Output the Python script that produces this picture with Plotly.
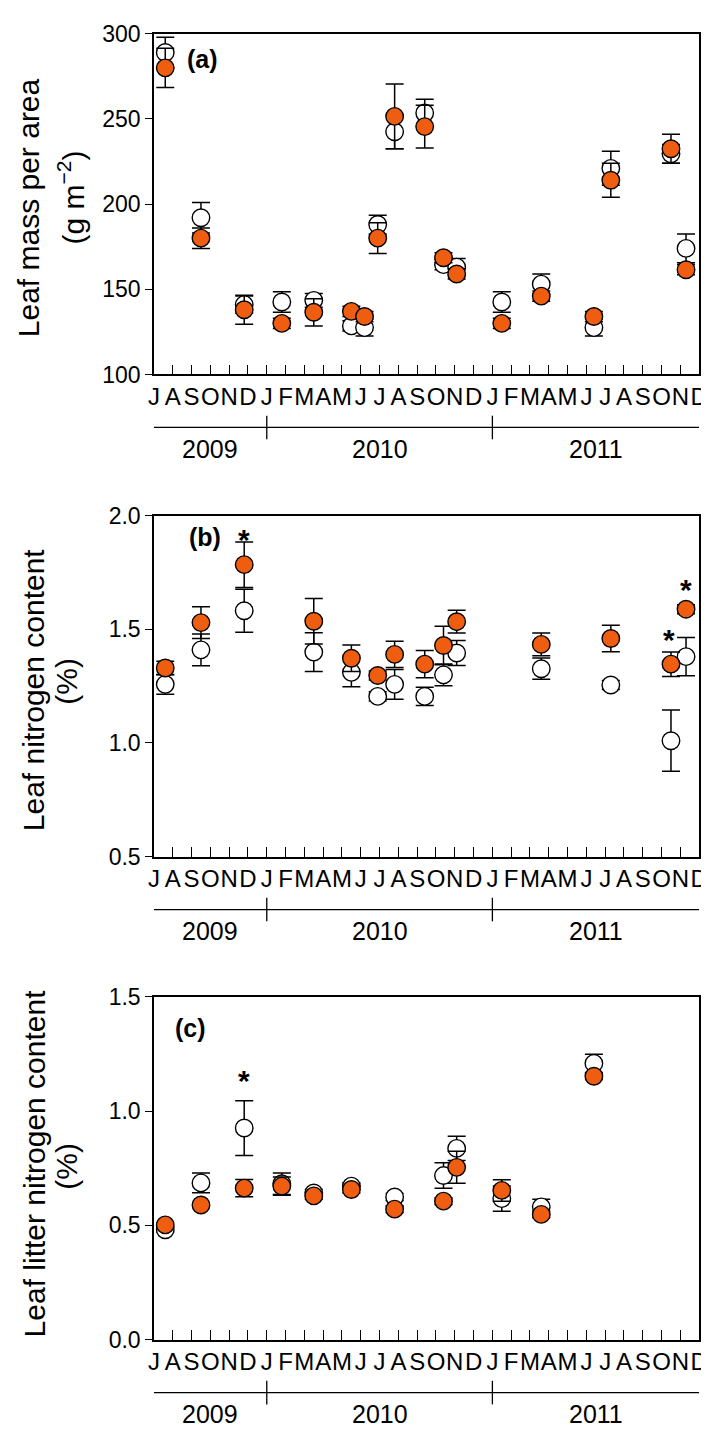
import plotly.graph_objects as go

# months from July 2009 (J A S O N D | J F M A M J J A S O N D | J ... D)
month_labels = list("JASOND") + list("JFMAMJJASOND") + list("JFMAMJJASOND")
years = ["2009", "2010", "2011"]
year_span = [(0, 6), (6, 18), (18, 29)]

# sampling times, months since 1 July 2009
t_lma = [0.6, 2.5, 4.8, 6.8, 8.5, 10.5, 11.2, 11.9, 12.8, 14.4, 15.4, 16.1,
         18.5, 20.6, 23.4, 24.3, 27.5, 28.3]
t_leafn = [0.6, 2.5, 4.8, 8.5, 10.5, 11.9, 12.8, 14.4, 15.4, 16.1, 20.6, 24.3,
           27.5, 28.3]
t_littern = [0.6, 2.5, 4.8, 6.8, 8.5, 10.5, 12.8, 15.4, 16.1, 18.5, 20.6, 23.4]

# (a) leaf mass per area, g m-2
lma_open = [289, 192, 141, 142.5, 143.5, 128.5, 127.5, 188, 242.5, 253.5, 164.5,
            163, 142.5, 153, 127.5, 221, 229.5, 174]
lma_open_se = [9, 9, 5, 6, 4, 3, 5, 5.5, 10, 8, 3, 5, 6, 6, 5, 10, 5.5, 8.5]
lma_fill = [280, 180, 138, 130, 136.5, 137, 134, 180, 251.5, 245.5, 168.5, 159,
            130, 146, 134, 214, 232.5, 161.5]
lma_fill_se = [11.5, 6, 8.5, 3, 8, 3, 3, 9, 19, 12.5, 3, 3, 3, 3, 3, 10, 8.5, 3]

# (b) leaf nitrogen content, %
leafn_open = [1.258, 1.41, 1.582, 1.40, 1.311, 1.205, 1.258, 1.205, 1.30, 1.396,
              1.327, 1.255, 1.01, 1.38]
leafn_open_se = [0.043, 0.07, 0.095, 0.085, 0.063, 0.02, 0.065, 0.04, 0.048,
                 0.055, 0.047, 0.02, 0.135, 0.084]
leafn_fill = [1.33, 1.53, 1.785, 1.536, 1.373, 1.297, 1.39, 1.347, 1.429, 1.534,
              1.434, 1.46, 1.347, 1.589]
leafn_fill_se = [0.03, 0.07, 0.10, 0.10, 0.058, 0.02, 0.058, 0.06, 0.085, 0.05,
                 0.05, 0.058, 0.054, 0.02]

# (c) leaf litter nitrogen content, %
littern_open = [0.481, 0.686, 0.926, 0.682, 0.642, 0.672, 0.624, 0.718, 0.837,
                0.617, 0.581, 1.209]
littern_open_se = [0.01, 0.043, 0.12, 0.047, 0.015, 0.015, 0.015, 0.056, 0.053,
                   0.055, 0.033, 0.04]
littern_fill = [0.502, 0.589, 0.663, 0.672, 0.629, 0.657, 0.571, 0.606, 0.754,
                0.653, 0.548, 1.153]
littern_fill_se = [0.01, 0.01, 0.038, 0.04, 0.015, 0.015, 0.015, 0.015, 0.07,
                   0.047, 0.015, 0.015]

# significance stars (x, y) per panel
stars_b = [(4.8, 1.928), (27.4, 1.486), (28.3, 1.707)]
stars_c = [(4.8, 1.166)]

ORANGE = "#EF5E10"
FONT = "Liberation Sans, Arial, sans-serif"
W, H = 709, 1430

# pixel layout of each panel: top, bottom, title line centres (x1, y1, x2, y2)
panels = [
    dict(t=t_lma, o=lma_open, ose=lma_open_se, f=lma_fill, fse=lma_fill_se,
         rng=[100, 300], dt=50, fmt="d", top=13, bot=360,
         title=("Leaf mass per area", "(g m<sup>−2</sup>)"),
         tpos=(15, 190, 58, 180), tag="(a)", tagpos=(2.6, 285), stars=[]),
    dict(t=t_leafn, o=leafn_open, ose=leafn_open_se, f=leafn_fill, fse=leafn_fill_se,
         rng=[0.5, 2.0], dt=0.5, fmt=".1f", top=504, bot=851,
         title=("Leaf nitrogen content", "(%)"),
         tpos=(20, 681, 54, 672), tag="(b)", tagpos=(2.7, 1.906), stars=stars_b),
    dict(t=t_littern, o=littern_open, ose=littern_open_se, f=littern_fill,
         fse=littern_fill_se, rng=[0.0, 1.5], dt=0.5, fmt=".1f", top=994, bot=1343,
         title=("Leaf litter nitrogen content", "(%)"),
         tpos=(21, 1164, 54, 1166), tag="(c)", tagpos=(1.95, 1.364), stars=stars_c),
]

fig = go.Figure()
x0, x1 = 143 / W, 700 / W

for i, p in enumerate(panels, start=1):
    xa = "x" if i == 1 else f"x{i}"
    ya = "y" if i == 1 else f"y{i}"
    err = dict(type="data", thickness=1.5, width=9, color="black")
    fig.add_trace(go.Scatter(
        x=p["t"], y=p["o"], mode="markers", xaxis=xa, yaxis=ya,
        marker=dict(size=17.5, color="white", line=dict(color="black", width=1.4)),
        error_y=dict(array=p["ose"], **err), showlegend=False))
    fig.add_trace(go.Scatter(
        x=p["t"], y=p["f"], mode="markers", xaxis=xa, yaxis=ya,
        marker=dict(size=17.5, color=ORANGE, line=dict(color="black", width=1.4)),
        error_y=dict(array=p["fse"], **err), showlegend=False))

    ax = dict(showline=True, linecolor="black", linewidth=1.5, mirror=True,
              showgrid=False, zeroline=False)
    fig.update_layout({
        ("xaxis" if i == 1 else f"xaxis{i}"): dict(
            ax, domain=[x0, x1], range=[0, 29], anchor=ya,
            tickvals=list(range(30)), ticktext=month_labels, tickangle=0,
            ticks="inside", ticklen=10, tickwidth=1.3, tickcolor="black",
            ticklabeloverflow="allow",
            tickfont=dict(family=FONT, size=24, color="black")),
        ("yaxis" if i == 1 else f"yaxis{i}"): dict(
            ax, domain=[1 - p["bot"] / H, 1 - p["top"] / H], range=p["rng"],
            anchor=xa, dtick=p["dt"], tick0=p["rng"][0], tickformat=p["fmt"],
            ticks="outside", ticklen=7, tickwidth=1.3, tickcolor="black",
            tickfont=dict(family=FONT, size=23, color="black")),
    })

    # y axis title, two lines
    tx1, ty1, tx2, ty2 = p["tpos"]
    for txt, tx, ty in ((p["title"][0], tx1, ty1), (p["title"][1], tx2, ty2)):
        fig.add_annotation(text=txt, textangle=-90, xref="paper", yref="paper",
                           x=tx / W, y=1 - ty / H, xanchor="center", yanchor="middle",
                           showarrow=False,
                           font=dict(family=FONT, size=30, color="black"))
    # panel tag
    fig.add_annotation(text="<b>" + p["tag"] + "</b>", xref=xa, yref=ya,
                       x=p["tagpos"][0], y=p["tagpos"][1], showarrow=False,
                       font=dict(family=FONT, size=25, color="black"))
    for sx, sy in p["stars"]:
        fig.add_annotation(text="<b>*</b>", xref=xa, yref=ya, x=sx, y=sy,
                           showarrow=False, yshift=-7,
                           font=dict(family=FONT, size=30, color="black"))

    # year bracket under the month axis
    ly = 1 - (p["bot"] + 54) / H
    fig.add_shape(type="line", xref=xa, yref="paper", x0=0, x1=29, y0=ly, y1=ly,
                  line=dict(color="black", width=1.3))
    for d in (6, 18):
        fig.add_shape(type="line", xref=xa, yref="paper", x0=d, x1=d,
                      y0=ly - 12 / H, y1=ly + 12 / H,
                      line=dict(color="black", width=1.3))
    for yr, (a, b) in zip(years, year_span):
        fig.add_annotation(text=yr, xref=xa, yref="paper", x=(a + b) / 2,
                           y=1 - (p["bot"] + 76) / H, showarrow=False,
                           xanchor="center", yanchor="middle",
                           font=dict(family=FONT, size=25, color="black"))

fig.update_layout(width=W, height=H, margin=dict(l=0, r=0, t=0, b=0),
                  plot_bgcolor="white", paper_bgcolor="white",
                  font=dict(family=FONT, color="black"))

fig.write_html("out.html")
